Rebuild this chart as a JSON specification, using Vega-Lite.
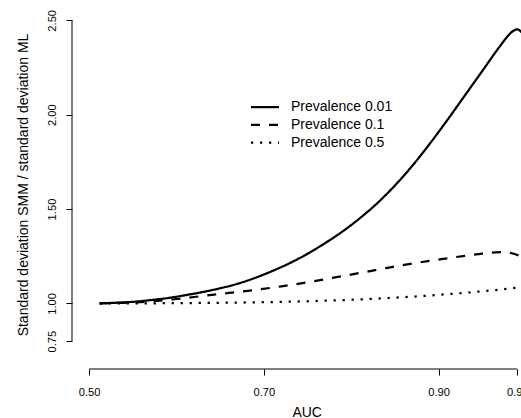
{
  "$schema": "https://vega.github.io/schema/vega-lite/v6.json",
  "autosize": "none",
  "width": 449,
  "height": 369,
  "padding": {"left": 72, "top": 0, "right": 0, "bottom": 49},
  "background": "white",
  "config": {
    "view": {"stroke": null},
    "font": "Liberation Sans",
    "axis": {"labelFont": "Liberation Sans", "titleFont": "Liberation Sans", "labelColor": "#000", "titleColor": "#000", "tickColor": "#000", "titleFontWeight": "normal"}
  },
  "data": {
    "values": [
      {"auc": 0.512, "sd_ratio": 1.000, "series": "Prevalence 0.01"},
      {"auc": 0.53, "sd_ratio": 1.003, "series": "Prevalence 0.01"},
      {"auc": 0.55, "sd_ratio": 1.008, "series": "Prevalence 0.01"},
      {"auc": 0.57, "sd_ratio": 1.017, "series": "Prevalence 0.01"},
      {"auc": 0.59, "sd_ratio": 1.028, "series": "Prevalence 0.01"},
      {"auc": 0.61, "sd_ratio": 1.043, "series": "Prevalence 0.01"},
      {"auc": 0.63, "sd_ratio": 1.060, "series": "Prevalence 0.01"},
      {"auc": 0.65, "sd_ratio": 1.080, "series": "Prevalence 0.01"},
      {"auc": 0.67, "sd_ratio": 1.104, "series": "Prevalence 0.01"},
      {"auc": 0.69, "sd_ratio": 1.135, "series": "Prevalence 0.01"},
      {"auc": 0.71, "sd_ratio": 1.172, "series": "Prevalence 0.01"},
      {"auc": 0.73, "sd_ratio": 1.214, "series": "Prevalence 0.01"},
      {"auc": 0.75, "sd_ratio": 1.263, "series": "Prevalence 0.01"},
      {"auc": 0.77, "sd_ratio": 1.319, "series": "Prevalence 0.01"},
      {"auc": 0.79, "sd_ratio": 1.381, "series": "Prevalence 0.01"},
      {"auc": 0.81, "sd_ratio": 1.452, "series": "Prevalence 0.01"},
      {"auc": 0.83, "sd_ratio": 1.532, "series": "Prevalence 0.01"},
      {"auc": 0.85, "sd_ratio": 1.625, "series": "Prevalence 0.01"},
      {"auc": 0.87, "sd_ratio": 1.730, "series": "Prevalence 0.01"},
      {"auc": 0.89, "sd_ratio": 1.847, "series": "Prevalence 0.01"},
      {"auc": 0.91, "sd_ratio": 1.972, "series": "Prevalence 0.01"},
      {"auc": 0.93, "sd_ratio": 2.102, "series": "Prevalence 0.01"},
      {"auc": 0.95, "sd_ratio": 2.232, "series": "Prevalence 0.01"},
      {"auc": 0.97, "sd_ratio": 2.362, "series": "Prevalence 0.01"},
      {"auc": 0.98, "sd_ratio": 2.421, "series": "Prevalence 0.01"},
      {"auc": 0.985, "sd_ratio": 2.443, "series": "Prevalence 0.01"},
      {"auc": 0.99, "sd_ratio": 2.452, "series": "Prevalence 0.01"},
      {"auc": 0.995, "sd_ratio": 2.436, "series": "Prevalence 0.01"},
      {"auc": 0.512, "sd_ratio": 1.000, "series": "Prevalence 0.1"},
      {"auc": 0.54, "sd_ratio": 1.003, "series": "Prevalence 0.1"},
      {"auc": 0.57, "sd_ratio": 1.010, "series": "Prevalence 0.1"},
      {"auc": 0.60, "sd_ratio": 1.023, "series": "Prevalence 0.1"},
      {"auc": 0.63, "sd_ratio": 1.039, "series": "Prevalence 0.1"},
      {"auc": 0.66, "sd_ratio": 1.055, "series": "Prevalence 0.1"},
      {"auc": 0.69, "sd_ratio": 1.071, "series": "Prevalence 0.1"},
      {"auc": 0.72, "sd_ratio": 1.090, "series": "Prevalence 0.1"},
      {"auc": 0.75, "sd_ratio": 1.112, "series": "Prevalence 0.1"},
      {"auc": 0.78, "sd_ratio": 1.136, "series": "Prevalence 0.1"},
      {"auc": 0.81, "sd_ratio": 1.161, "series": "Prevalence 0.1"},
      {"auc": 0.84, "sd_ratio": 1.187, "series": "Prevalence 0.1"},
      {"auc": 0.87, "sd_ratio": 1.211, "series": "Prevalence 0.1"},
      {"auc": 0.90, "sd_ratio": 1.232, "series": "Prevalence 0.1"},
      {"auc": 0.93, "sd_ratio": 1.252, "series": "Prevalence 0.1"},
      {"auc": 0.95, "sd_ratio": 1.264, "series": "Prevalence 0.1"},
      {"auc": 0.965, "sd_ratio": 1.270, "series": "Prevalence 0.1"},
      {"auc": 0.975, "sd_ratio": 1.271, "series": "Prevalence 0.1"},
      {"auc": 0.985, "sd_ratio": 1.264, "series": "Prevalence 0.1"},
      {"auc": 0.993, "sd_ratio": 1.250, "series": "Prevalence 0.1"},
      {"auc": 0.512, "sd_ratio": 1.000, "series": "Prevalence 0.5"},
      {"auc": 0.55, "sd_ratio": 1.000, "series": "Prevalence 0.5"},
      {"auc": 0.60, "sd_ratio": 1.001, "series": "Prevalence 0.5"},
      {"auc": 0.65, "sd_ratio": 1.003, "series": "Prevalence 0.5"},
      {"auc": 0.70, "sd_ratio": 1.006, "series": "Prevalence 0.5"},
      {"auc": 0.75, "sd_ratio": 1.011, "series": "Prevalence 0.5"},
      {"auc": 0.80, "sd_ratio": 1.019, "series": "Prevalence 0.5"},
      {"auc": 0.85, "sd_ratio": 1.030, "series": "Prevalence 0.5"},
      {"auc": 0.90, "sd_ratio": 1.045, "series": "Prevalence 0.5"},
      {"auc": 0.95, "sd_ratio": 1.064, "series": "Prevalence 0.5"},
      {"auc": 0.995, "sd_ratio": 1.085, "series": "Prevalence 0.5"}
    ]
  },
  "layer": [
    {
      "mark": {"type": "line", "clip": true, "color": "#000", "strokeWidth": 2.25, "interpolate": "monotone"},
      "encoding": {
        "x": {
          "field": "auc", "type": "quantitative",
          "scale": {"domain": [0.4804, 0.9942], "nice": false, "zero": false},
          "axis": {
            "title": "AUC", "domain": false, "grid": false,
            "values": [0.5, 0.7, 0.9, 0.99],
            "labelExpr": "format(datum.value, '.2f')",
            "labelFontSize": 11.2, "labelPadding": 11, "labelOverlap": false, "labelFlush": false, "labelBound": false,
            "tickSize": 6, "tickWidth": 1,
            "titleFontSize": 14, "titleX": 234.7, "titleY": 47, "titleBaseline": "alphabetic"
          }
        },
        "y": {
          "field": "sd_ratio", "type": "quantitative",
          "scale": {"domain": [0.652, 2.6076], "nice": false, "zero": false},
          "axis": {
            "title": "Standard deviation SMM / standard deviation ML", "domain": false, "grid": false,
            "values": [0.8, 1, 1.5, 2, 2.5],
            "labelExpr": "datum.value == 0.8 ? '0.75' : format(datum.value, '.2f')",
            "labelFontSize": 11.2, "labelAngle": -90, "labelAlign": "center", "labelBaseline": "bottom",
            "labelPadding": 9, "labelOverlap": false, "labelFlush": false, "labelBound": false,
            "tickSize": 6, "tickWidth": 1,
            "titleFontSize": 14, "titlePadding": 16
          }
        },
        "strokeDash": {
          "field": "series", "type": "nominal",
          "scale": {"domain": ["Prevalence 0.01", "Prevalence 0.1", "Prevalence 0.5"], "range": [[1, 0], [9, 9], [2.25, 6.75]]},
          "legend": {
            "title": null, "orient": "none", "legendX": 186, "legendY": 100, "padding": 0,
            "symbolType": "M-2.8,0L2.8,0", "symbolSize": 100, "symbolStrokeWidth": 2.25, "symbolStrokeColor": "#000",
            "labelFont": "Liberation Sans", "labelFontSize": 14, "labelColor": "#000", "labelOffset": 19, "rowPadding": 3.8
          }
        }
      }
    },
    {
      "data": {"values": [{}]},
      "mark": {"type": "rule", "color": "#000", "strokeWidth": 1},
      "encoding": {"x": {"datum": 0.5}, "x2": {"datum": 0.99}, "y": {"datum": 0.652}}
    },
    {
      "data": {"values": [{}]},
      "mark": {"type": "rule", "color": "#000", "strokeWidth": 1},
      "encoding": {"x": {"datum": 0.4804}, "y": {"datum": 0.8}, "y2": {"datum": 2.5}}
    }
  ]
}
